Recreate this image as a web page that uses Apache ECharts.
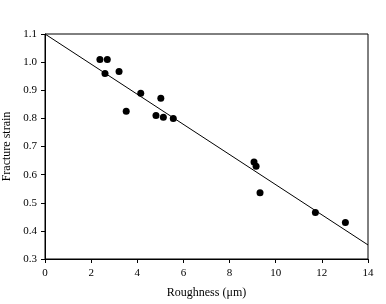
<!DOCTYPE html>
<html>
<head>
<meta charset="utf-8">
<script src="https://cdn.jsdelivr.net/npm/echarts@6/dist/echarts.min.js"></script>
<style>
  html, body { margin: 0; padding: 0; background: #fff; }
  #chart { width: 386px; height: 304px; }
</style>
</head>
<body>
<div id="chart"></div>
<script>
// measured points
var roughness = [2.38, 2.70, 2.60, 3.21, 4.15, 5.02, 3.52, 4.81, 5.13, 5.56, 9.06, 9.15, 9.32, 11.72, 13.02]
var strain = [1.009, 1.009, 0.960, 0.967, 0.889, 0.872, 0.825, 0.810, 0.804, 0.800, 0.645, 0.630, 0.536, 0.465, 0.430]
// fitted line ends
var fitX = [0, 14]
var fitY = [1.1, 0.35]

var font = 'Liberation Serif'

var chart = echarts.init(document.getElementById('chart'))
chart.setOption({
  animation: false,
  grid: { left: 45, top: 34, right: 18, bottom: 45, containLabel: false, outerBoundsMode: 'none' },
  xAxis: {
    type: 'value',
    min: 0,
    max: 14,
    interval: 2,
    name: 'Roughness (\u03bcm)',
    nameLocation: 'middle',
    nameGap: 28,
    nameTextStyle: { fontFamily: font, fontSize: 12, color: '#000' },
    axisLine: { onZero: false, lineStyle: { color: '#000', width: 1 } },
    axisTick: { show: true, inside: false, length: 4, lineStyle: { color: '#000' } },
    axisLabel: { fontFamily: font, fontSize: 11, color: '#000', margin: 9 },
    splitLine: { show: false }
  },
  yAxis: {
    type: 'value',
    min: 0.3,
    max: 1.1,
    interval: 0.1,
    name: 'Fracture strain',
    nameLocation: 'middle',
    nameGap: 28,
    nameTextStyle: { fontFamily: font, fontSize: 12, color: '#000' },
    axisLine: { onZero: false, lineStyle: { color: '#000', width: 1 } },
    axisTick: { show: true, inside: false, length: 4, lineStyle: { color: '#000' } },
    axisLabel: {
      fontFamily: font, fontSize: 11, color: '#000', margin: 8,
      formatter: function (v) { return v.toFixed(1) }
    },
    splitLine: { show: false }
  },
  series: [
    {
      type: 'line',
      data: fitX.map(function (x, i) { return [x, fitY[i]] }),
      symbol: 'none',
      lineStyle: { color: '#000', width: 1 },
      silent: true
    },
    {
      type: 'scatter',
      data: roughness.map(function (x, i) { return [x, strain[i]] }),
      symbol: 'circle',
      symbolSize: 7,
      itemStyle: { color: '#000', opacity: 1 }
    }
  ],
  graphic: [
    {
      type: 'rect',
      shape: { x: 45, y: 34, width: 323, height: 225 },
      style: { fill: 'none', stroke: '#000', lineWidth: 1 },
      silent: true
    }
  ]
})
</script>
</body>
</html>
